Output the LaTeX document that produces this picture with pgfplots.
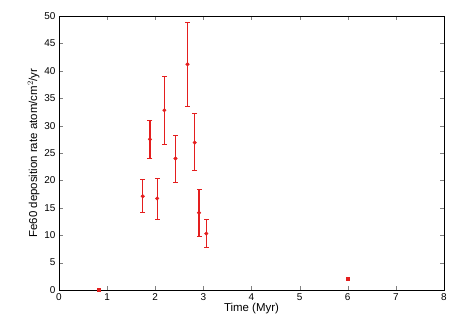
\documentclass[border=0pt]{standalone}
\usepackage{pgfplots}
\pgfplotsset{compat=1.18}
\usepackage{fontspec}
\setmainfont{Liberation Sans}
\definecolor{gred}{RGB}{228,30,30}
\begin{document}
\begin{tikzpicture}
\begin{axis}[
  scale only axis, width=385bp, height=274bp,
  xmin=0, xmax=8, ymin=0, ymax=50,
  xtick={0,1,...,8}, ytick={0,5,...,50},
  tick align=inside, major tick length=4bp,
  axis line style={line width=0.9pt},
  /pgf/number format/assume math mode=true,
  tick label style={font=\fontsize{10}{12}\selectfont},
  label style={font=\fontsize{11.5}{13}\selectfont},
  xlabel={Time (Myr)}, ylabel={Fe60 deposition rate atom/cm$^2$/yr},
  xlabel style={yshift=4bp}, ylabel style={yshift=-2bp},
  unbounded coords=jump,
  clip=false,
]
% error bars: low and high ends
\addplot[color=gred, line width=1.3pt, mark=-, mark size=2.5pt, mark options={solid, line width=1pt}]
  coordinates {
  (1.74,14.1) (1.74,20.1) (nan,nan)
  (1.89,24.0) (1.89,30.9) (nan,nan)
  (2.04,12.9) (2.04,20.4) (nan,nan)
  (2.19,26.5) (2.19,38.9) (nan,nan)
  (2.42,19.7) (2.42,28.2) (nan,nan)
  (2.67,33.5) (2.67,48.8) (nan,nan)
  (2.82,21.8) (2.82,32.2) (nan,nan)
  (2.91,9.7) (2.91,18.4) (nan,nan)
  (3.06,7.7) (3.06,12.9)
  };
\addplot[only marks, color=gred, mark=*, mark size=1.8pt, mark options={draw=gred, fill=gred}]
  coordinates {
  (1.74,17.1) (1.89,27.5) (2.04,16.7) (2.19,32.8) (2.42,24.0)
  (2.67,41.2) (2.82,26.9) (2.91,14.1) (3.06,10.3)
  };
\addplot[only marks, color=gred, mark=square*, mark size=1.6pt, mark options={draw=gred, fill=gred}] coordinates {(0.82,0.1) (6.0,2.1)};
\end{axis}
\path (current axis.south west) ++(-59bp,-42bp) coordinate (bl);
\path (current axis.north east) ++(31bp,16bp) coordinate (tr);
\useasboundingbox (bl) rectangle (tr);
\end{tikzpicture}
\end{document}
